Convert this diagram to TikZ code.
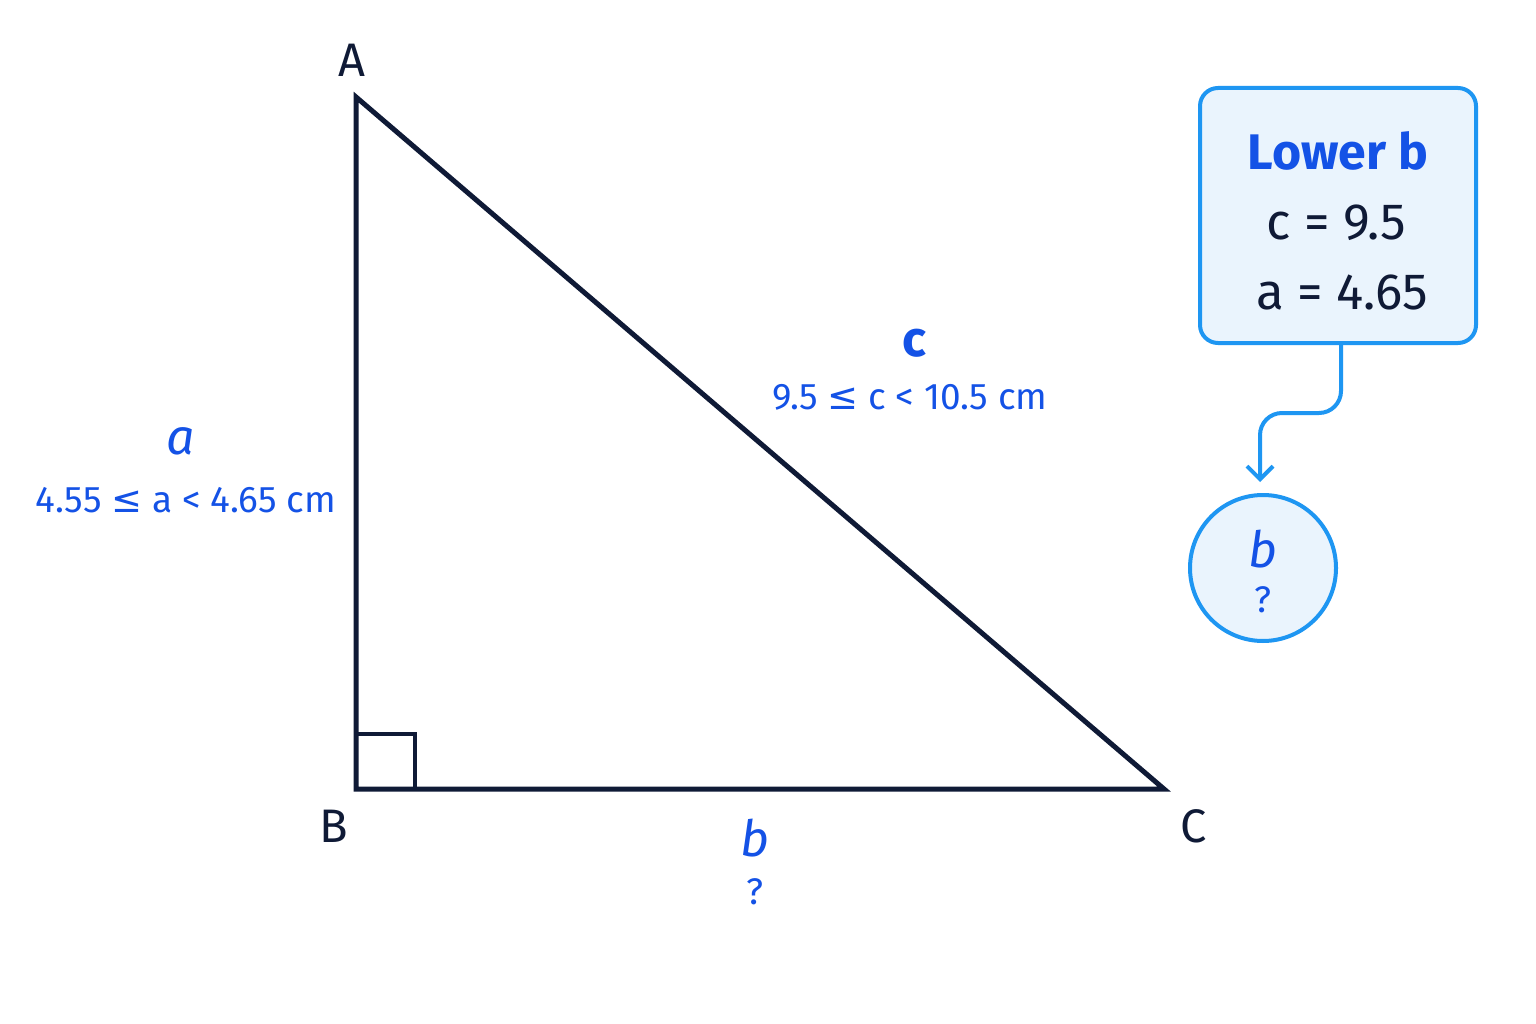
\documentclass[tikz,border=0pt]{standalone}
\usepackage{fontspec}
\setmainfont{Fira Sans}
\newfontfamily\symf{DejaVu Sans}
\usetikzlibrary{arrows.meta}
\definecolor{navy}{HTML}{0F1A36}
\definecolor{tblue}{HTML}{1452E6}
\definecolor{sblue}{HTML}{1E96F2}
\definecolor{fblue}{HTML}{EAF4FD}
\newcommand{\leqs}{{\symf ≤}}
\tikzset{
  fs/.style={font=\fontsize{#1}{#1}\selectfont},
  vlabel/.style={text=navy,fs=47},
  sidename/.style={text=tblue,fs=50},
  rangetxt/.style={text=tblue,fs=37},
  boxtxt/.style={text=navy,fs=51},
  tri/.style={draw=navy,line width=5pt,line join=miter},
  conn/.style={draw=sblue,line width=4pt,rounded corners=22pt},
}
\begin{document}
\begin{tikzpicture}[x=1pt,y=-1pt]
\useasboundingbox (0,0) rectangle (1536,1024);
\fill[white] (0,0) rectangle (1536,1024);
% triangle
\coordinate (A) at (356,97);
\coordinate (B) at (356,789);
\coordinate (C) at (1164,789);
\draw[tri] (A) -- (B) -- (C) -- cycle;
\draw[draw=navy,line width=4pt] (356,734) -- (415,734) -- (415,789);
% vertex labels
\node[vlabel] (lA) at (352,60) {A};
\node[vlabel] (lB) at (334,826) {B};
\node[vlabel] (lC) at (1194,826) {C};
% side labels
\node[sidename] (na) at (181,441) {\itshape a};
\node[rangetxt] (ra) at (186,500) {4.55 \leqs{} a < 4.65 cm};
\node[sidename] (nc) at (914,343) {\bfseries c};
\node[rangetxt] (rc) at (910,397) {9.5 \leqs{} c < 10.5 cm};
\node[sidename] (nb) at (755,838) {\itshape b};
\node[rangetxt] (qb) at (755,892) {?};
% box
\node[draw=sblue,fill=fblue,line width=4pt,rounded corners=18pt,
      minimum width=276pt,minimum height=255pt] (box) at (1338,215.5) {};
\node[text=tblue,fs=50] (t1) at (1338,151) {\bfseries Lower b};
\node[boxtxt] (t2) at (1336,223) {c = 9.5};
\node[boxtxt] (t3) at (1342,292) {a = 4.65};
% circle
\node[circle,draw=sblue,fill=fblue,line width=4pt,minimum size=146pt] (circ) at (1263,568) {};
\node[sidename] (cb) at (1263,549) {\itshape b};
\node[rangetxt] (cq) at (1263,600) {?};
% connector
\coordinate (arrtip) at (1260,482);
\draw[conn,-{Straight Barb[length=13pt,width=26pt,line width=4pt]}]
  ([xshift=3pt]box.south) -- (1341,413) -- (1260,413) -- (arrtip);
\end{tikzpicture}
\end{document}
